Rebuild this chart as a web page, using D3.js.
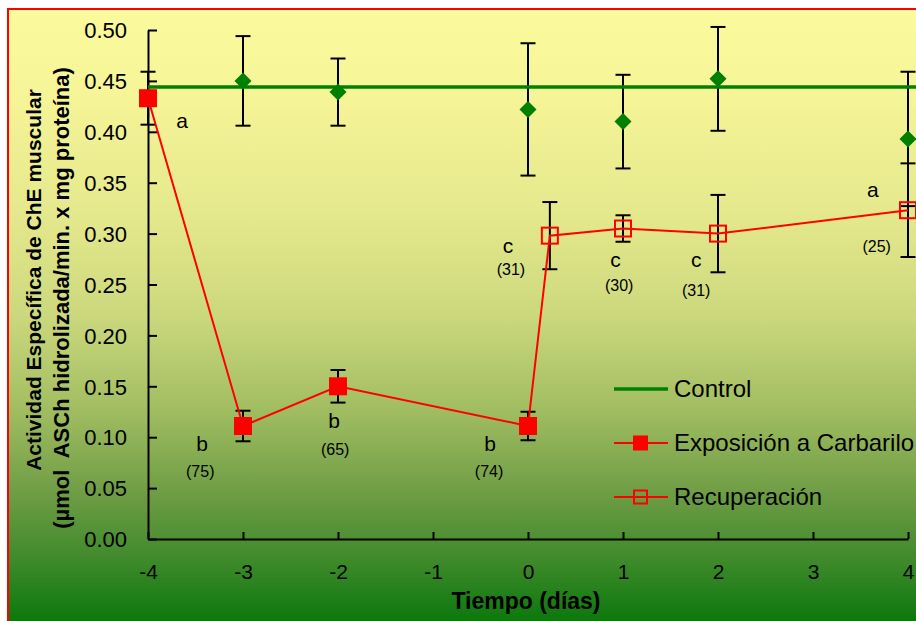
<!DOCTYPE html>
<html>
<head>
<meta charset="utf-8">
<script src="https://cdn.jsdelivr.net/npm/d3@7"></script>
<style>
  html, body { margin: 0; padding: 0; background: #fff; overflow: hidden; }
  svg { display: block; }
  text { font-family: "Liberation Sans", Arial, sans-serif; fill: #000; white-space: pre; }
</style>
</head>
<body>
<svg id="chart" width="916" height="621"></svg>
<script>
// Control reference level (mean of control group)
const controlLevel = 0.444;

// Control group: day, mean, standard error
const controlDays = [-3, -2, 0, 1, 2, 4];
const controlVals = [0.450, 0.439, 0.422, 0.410, 0.452, 0.393];
const controlErr  = [0.044, 0.033, 0.065, 0.046, 0.051, 0.066];

// Exposure to carbaryl
const exposureDays = [-4, -3, -2, 0];
const exposureVals = [0.433, 0.111, 0.150, 0.111];
const exposureErr  = [0.026, 0.015, 0.016, 0.014];

// Recovery
const recoveryDays = [0.23, 1, 2, 4];
const recoveryVals = [0.298, 0.305, 0.300, 0.323];
const recoveryErr  = [0.033, 0.013, 0.038, 0.046];

// Significance letters and inhibition percentages (day, value)
const letterText = ["a", "b", "b", "b", "c", "c", "c", "a"];
const letterDays = [-3.64, -3.43, -2.04, -0.40, -0.21, 0.92, 1.77, 3.63];
const letterVals = [0.404, 0.0864, 0.109, 0.0864, 0.281, 0.267, 0.267, 0.336];
const pctText = ["(75)", "(65)", "(74)", "(31)", "(30)", "(31)", "(25)"];
const pctDays = [-3.45, -2.03, -0.41, -0.18, 0.96, 1.77, 3.67];
const pctVals = [0.061, 0.0825, 0.061, 0.2593, 0.2436, 0.2387, 0.282];

// Axis ticks
const xTicks = [-4, -3, -2, -1, 0, 1, 2, 3, 4];
const yTicks = [0, 0.05, 0.10, 0.15, 0.20, 0.25, 0.30, 0.35, 0.40, 0.45, 0.50];

const legendLabels = ["Control", "Exposición a Carbarilo", "Recuperación"];

const svg = d3.select("#chart");
const GREEN = "#008000", RED = "#FF0000";

// Background gradient
const defs = svg.append("defs");
const grad = defs.append("linearGradient")
  .attr("id", "bg").attr("gradientUnits", "userSpaceOnUse")
  .attr("x1", 0).attr("y1", 9).attr("x2", 0).attr("y2", 621);
[[0, "#FBFA9D"], [0.15, "#F5F497"], [0.35, "#E3E78B"], [0.5, "#CCD87D"],
 [0.65, "#A3BE62"], [0.8, "#6B9B43"], [0.9, "#3F8A2B"], [1, "#0C780C"]]
  .forEach(([o, c]) => grad.append("stop").attr("offset", o).attr("stop-color", c));

svg.append("rect").attr("x", 8).attr("y", 9).attr("width", 1000).attr("height", 700)
  .attr("fill", "url(#bg)").attr("stroke", RED).attr("stroke-width", 2);

const x = d3.scaleLinear().domain([-4, 4]).range([148, 908]);
const y = d3.scaleLinear().domain([0, 0.5]).range([539, 30]);

// Axes with inward ticks
const yAxis = svg.append("g").attr("transform", `translate(${x(-4)},0)`)
  .call(d3.axisLeft(y).tickValues(yTicks).tickFormat(d3.format(".2f")).tickSizeInner(-9).tickSizeOuter(0).tickPadding(21));
const xAxis = svg.append("g").attr("transform", `translate(0,${y(0)})`)
  .call(d3.axisBottom(x).tickValues(xTicks).tickFormat(d => String(d)).tickSizeInner(-7).tickSizeOuter(0).tickPadding(25));
[yAxis, xAxis].forEach(g => {
  g.select(".domain").attr("stroke", "#000").attr("stroke-width", 2);
  g.selectAll(".tick line").attr("stroke", "#000").attr("stroke-width", 2);
  g.selectAll(".tick text").attr("font-size", 22).attr("fill", "#000")
    .attr("font-family", '"Liberation Sans", Arial, sans-serif');
});
yAxis.selectAll(".tick text").attr("dy", "0.35em");
xAxis.selectAll(".tick text").attr("dy", "0.71em").attr("font-size", 21);

// Error bars
function errorBars(days, vals, errs, capHalf) {
  const g = svg.append("g").attr("stroke", "#000").attr("stroke-width", 2);
  days.forEach((d, i) => {
    const cx = x(d), top = y(vals[i] + errs[i]), bot = y(vals[i] - errs[i]);
    g.append("line").attr("x1", cx).attr("x2", cx).attr("y1", top).attr("y2", bot);
    g.append("line").attr("x1", cx - capHalf).attr("x2", cx + capHalf).attr("y1", top).attr("y2", top);
    g.append("line").attr("x1", cx - capHalf).attr("x2", cx + capHalf).attr("y1", bot).attr("y2", bot);
  });
}
errorBars(controlDays, controlVals, controlErr, 7.5);
errorBars(exposureDays, exposureVals, exposureErr, 7.5);
errorBars(recoveryDays, recoveryVals, recoveryErr, 7.5);

// Control level line
svg.append("line").attr("x1", x(-4)).attr("x2", x(4.3))
  .attr("y1", y(controlLevel)).attr("y2", y(controlLevel))
  .attr("stroke", GREEN).attr("stroke-width", 3.5);

// Exposure + recovery connected line
const redPts = exposureDays.map((d, i) => [d, exposureVals[i]])
  .concat(recoveryDays.map((d, i) => [d, recoveryVals[i]]));
svg.append("path").datum(redPts)
  .attr("d", d3.line().x(p => x(p[0])).y(p => y(p[1])))
  .attr("fill", "none").attr("stroke", RED).attr("stroke-width", 2);

// Control diamonds
svg.append("g").selectAll("path").data(controlDays).join("path")
  .attr("transform", (d, i) => `translate(${x(d)},${y(controlVals[i])})`)
  .attr("d", "M0,-8.5L8.5,0L0,8.5L-8.5,0Z").attr("fill", GREEN);

// Exposure filled squares
svg.append("g").selectAll("rect").data(exposureDays).join("rect")
  .attr("x", d => x(d) - 9).attr("y", (d, i) => y(exposureVals[i]) - 9)
  .attr("width", 18).attr("height", 18).attr("fill", RED);

// Recovery open squares
svg.append("g").selectAll("rect").data(recoveryDays).join("rect")
  .attr("x", d => x(d) - 8).attr("y", (d, i) => y(recoveryVals[i]) - 8)
  .attr("width", 16).attr("height", 16).attr("fill", "none")
  .attr("stroke", RED).attr("stroke-width", 2);

// Annotations
svg.append("g").selectAll("text").data(letterText).join("text")
  .attr("x", (t, i) => x(letterDays[i])).attr("y", (t, i) => y(letterVals[i]))
  .attr("text-anchor", "middle").attr("font-size", 21).text(t => t);
svg.append("g").selectAll("text").data(pctText).join("text")
  .attr("x", (t, i) => x(pctDays[i])).attr("y", (t, i) => y(pctVals[i]))
  .attr("text-anchor", "middle").attr("font-size", 16).text(t => t);

// Axis titles
svg.append("text").attr("x", 526).attr("y", 609).attr("text-anchor", "middle")
  .attr("font-size", 23).attr("font-weight", "bold").text("Tiempo (días)");
svg.append("text").attr("transform", "translate(41,280) rotate(-90)")
  .attr("text-anchor", "middle").attr("font-size", 21).attr("font-weight", "bold")
  .text("Actividad Específica de ChE muscular");
svg.append("text").attr("transform", "translate(69,298) rotate(-90)")
  .attr("text-anchor", "middle").attr("font-size", 22).attr("font-weight", "bold")
  .text("(µmol  ASCh hidrolizada/min. x mg proteína)");

// Legend
const leg = svg.append("g");
const legY = [389, 443, 497];
leg.append("line").attr("x1", 614).attr("x2", 668).attr("y1", legY[0]).attr("y2", legY[0])
  .attr("stroke", GREEN).attr("stroke-width", 3.5);
leg.append("line").attr("x1", 614).attr("x2", 668).attr("y1", legY[1]).attr("y2", legY[1])
  .attr("stroke", RED).attr("stroke-width", 2);
leg.append("rect").attr("x", 633).attr("y", legY[1] - 7.5).attr("width", 15).attr("height", 15).attr("fill", RED);
leg.append("line").attr("x1", 614).attr("x2", 668).attr("y1", legY[2]).attr("y2", legY[2])
  .attr("stroke", RED).attr("stroke-width", 2);
leg.append("rect").attr("x", 634).attr("y", legY[2] - 6.5).attr("width", 13).attr("height", 13)
  .attr("fill", "none").attr("stroke", RED).attr("stroke-width", 2);
leg.selectAll("text").data(legendLabels).join("text")
  .attr("x", 674).attr("y", (t, i) => legY[i] + 8).attr("font-size", 24).text(t => t);
</script>
</body>
</html>
